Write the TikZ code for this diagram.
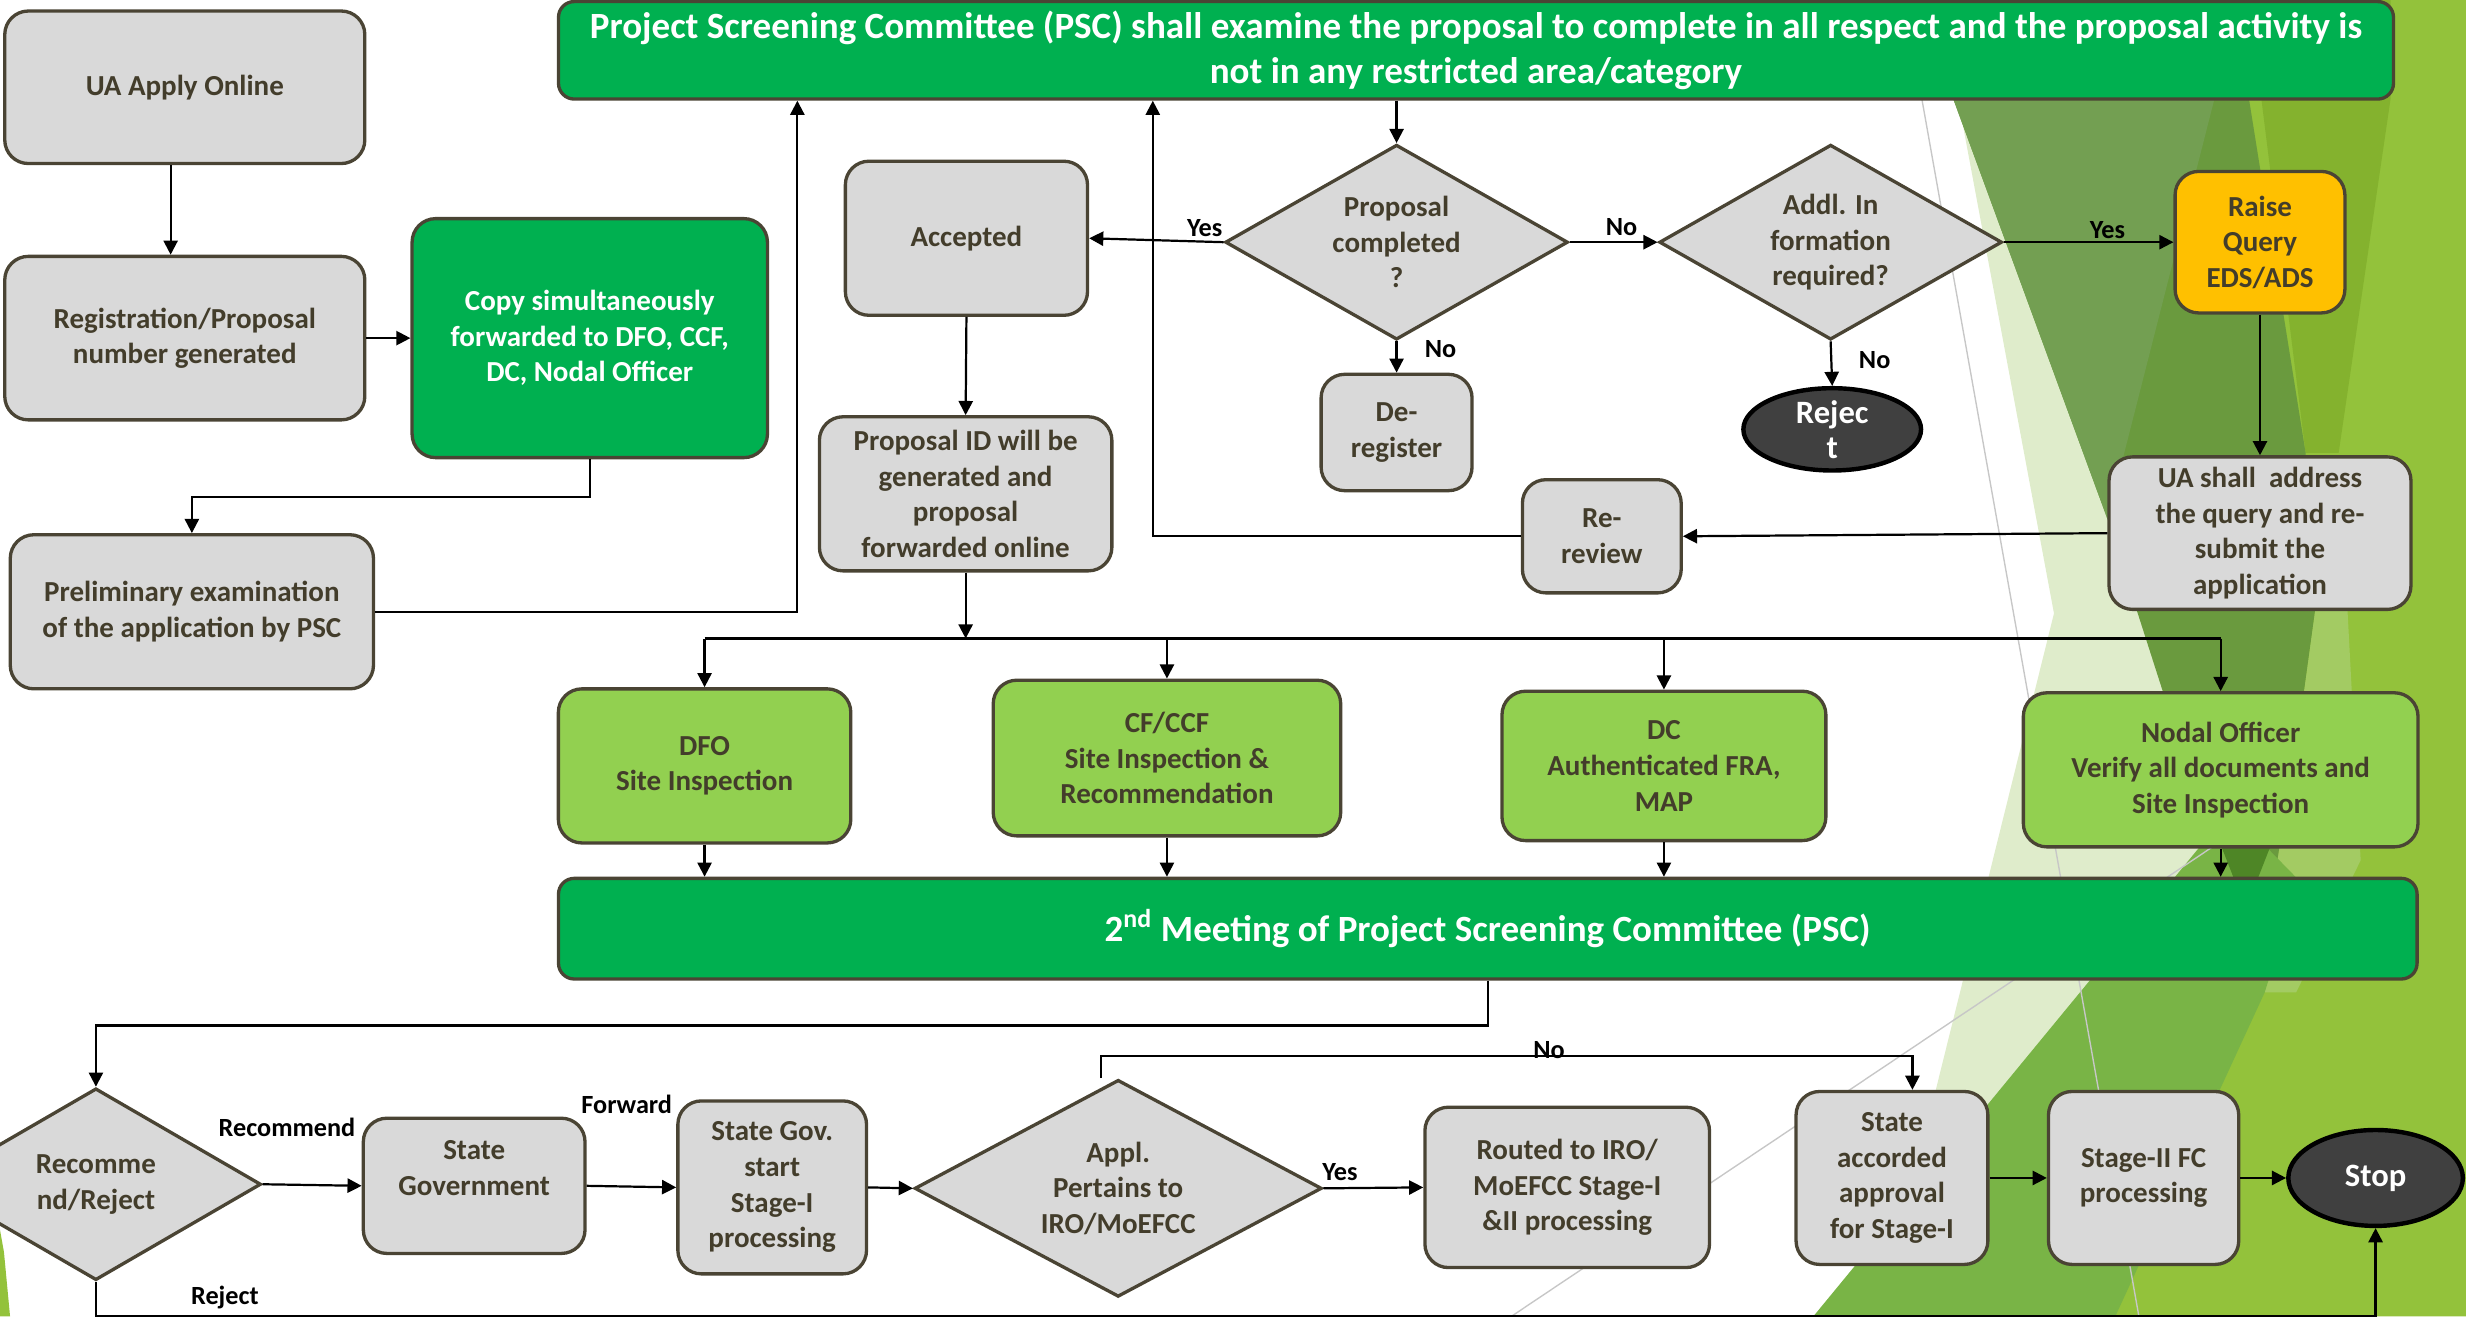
\documentclass[tikz,border=0pt]{standalone}
\usepackage{fontspec}
\setmainfont{Carlito}
\usetikzlibrary{shapes.geometric,arrows.meta}

\definecolor{boxgray}{HTML}{D9D9D9}
\definecolor{boxline}{HTML}{4A4434}
\definecolor{boxtext}{HTML}{433D2B}
\definecolor{pscgreen}{HTML}{00B050}
\definecolor{sitegreen}{HTML}{92D050}
\definecolor{querygold}{HTML}{FFC000}
\definecolor{endgray}{HTML}{404040}
\definecolor{bgbright}{HTML}{93C23B}
\definecolor{bgmedium}{HTML}{84B22E}
\definecolor{bglight}{HTML}{A3CB63}
\definecolor{bgpale}{HTML}{DFECCB}
\definecolor{bgdark}{HTML}{6A9A3E}
\definecolor{bgolive}{HTML}{739F52}
\definecolor{bgmid}{HTML}{79B446}
\definecolor{bgdeep}{HTML}{4E8626}

\begin{document}
\begin{tikzpicture}[x=0.02cm, y=-0.02cm,
    every node/.style={font=\bfseries},
    box/.style={draw=boxline, line width=1.2pt, rounded corners=0.3cm, fill=boxgray, text=boxtext,
        align=center, inner sep=1pt, font=\fontsize{10.5}{12.9}\selectfont\bfseries},
    sitebox/.style={box, fill=sitegreen},
    querybox/.style={box, fill=querygold},
    copybox/.style={box, fill=pscgreen, text=white},
    pscbar/.style={box, fill=pscgreen, text=white, rounded corners=0.2cm,
        font=\fontsize{13.4}{16}\selectfont\bfseries},
    decision/.style={diamond, draw=boxline, line width=1.2pt, fill=boxgray, text=boxtext,
        align=center, inner sep=1pt, aspect=1.75, font=\fontsize{10.5}{12.9}\selectfont\bfseries},
    terminal/.style={ellipse, draw=black, line width=1.6pt, fill=endgray, text=white,
        align=center, inner sep=0pt, font=\fontsize{11.8}{12.7}\selectfont\bfseries},
    lbl/.style={text=black, inner sep=1pt, font=\fontsize{9.5}{11}\selectfont\bfseries},
    arr/.style={-{Triangle[length=0.18cm,width=0.18cm]}, line width=0.8pt, black},
    link/.style={line width=0.8pt, black},
    bgline/.style={draw=black!22, line width=0.5pt}]

            \useasboundingbox (0,0) rectangle (1568,837);

            \fill[bgbright] (1400,0) -- (1568,0) -- (1568,837) -- (1300,837) -- (1400,600) -- cycle;
            \fill[bgbright] (0,782) -- (2.5,796) -- (6.4,837) -- (0,837) -- cycle;
            \fill[bgmedium] (1430,0) -- (1520,0) -- (1520,63) -- (1487,288) -- (1466,288) -- cycle;
            \fill[bglight] (1470,330) -- (1488,300) -- (1501,547) -- (1460,631) -- (1440,631) -- (1448,547) -- (1465,439) -- (1472,388) -- cycle;
            \fill[bgpale] (1245,63) -- (1306,390) -- (1213,765) -- (1415,520) -- (1340,330) -- cycle;
            \fill[bgdark] (1242,63) -- (1430,63) -- (1466,288) -- (1472,388) -- (1465,439) -- (1448,547) -- (1427,575) -- (1405,547) -- (1375,439) -- (1340,330) -- cycle;
            \fill[bgolive] (1242,63) -- (1408,63) -- (1340,330) -- cycle;
            \fill[bgmid] (1418,515) -- (1462,560) -- (1440,631) -- (1345,837) -- (1153,837) -- cycle;
            \fill[bgdeep] (1410,532) -- (1446,532) -- (1428,578) -- cycle;
            \draw[bgline] (1222,63) -- (1360,837);
            \draw[bgline] (961,837) -- (1415,533);

            \node[box, minimum width=4.58cm, minimum height=1.94cm] (ua) at (117.5,55.5) {UA Apply Online};
            \node[box, minimum width=4.58cm, minimum height=2.08cm] (reg) at (117.5,215) {Registration/Proposal\\number generated};
            \node[copybox, minimum width=4.52cm, minimum height=3.04cm] (copy) at (375,215) {Copy simultaneously\\forwarded to DFO, CCF,\\DC, Nodal Officer};
            \node[box, minimum width=4.62cm, minimum height=1.96cm] (prelim) at (122,389) {Preliminary examination\\of the application by PSC};
            \node[pscbar, minimum width=23.34cm, minimum height=1.24cm] (psc) at (938.5,32) {Project Screening Committee (PSC) shall examine the proposal to complete in all respect and the proposal activity is\\not in any restricted area/category};
            \node[box, minimum width=3.08cm, minimum height=1.96cm] (acc) at (614.5,151.5) {Accepted};
            \node[decision, minimum width=4.36cm, minimum height=2.48cm] (pc) at (888,154) {Proposal\\completed\\?};
            \node[box, minimum width=1.92cm, minimum height=1.48cm] (dereg) at (888,275) {De-\\register};
            \node[decision, minimum width=4.36cm, minimum height=2.48cm] (addl) at (1164,154) {Addl. In\\formation\\required?};
            \node[terminal, minimum width=2.26cm, minimum height=1.04cm] (rej) at (1165,273) {Rejec\\t};
            \node[querybox, minimum width=2.16cm, minimum height=1.8cm] (raise) at (1437,154) {Raise\\Query\\EDS/ADS};
            \node[box, minimum width=3.84cm, minimum height=1.94cm] (uashall) at (1437,339) {UA shall~ address\\the query and re-\\submit the\\application};
            \node[box, minimum width=2.02cm, minimum height=1.44cm] (rerev) at (1018.5,341) {Re-\\review};
            \node[box, minimum width=3.72cm, minimum height=1.96cm] (propid) at (614,314) {Proposal ID will be\\generated and\\proposal\\forwarded online};
            \node[sitebox, minimum width=3.72cm, minimum height=1.96cm] (dfo) at (448,487) {DFO\\Site Inspection};
            \node[sitebox, minimum width=4.42cm, minimum height=1.98cm] (cf) at (742,482) {CF/CCF\\Site Inspection \&\\Recommendation};
            \node[sitebox, minimum width=4.12cm, minimum height=1.9cm] (dc) at (1058,487) {DC\\Authenticated FRA,\\MAP};
            \node[sitebox, minimum width=5.02cm, minimum height=1.96cm] (nodal) at (1412,489.5) {Nodal Officer\\Verify all documents and\\Site Inspection};
            \node[pscbar, minimum width=23.64cm, minimum height=1.28cm] (meet) at (946,590.5) {2\textsuperscript{nd} Meeting of Project Screening Committee (PSC)};
            \node[decision, minimum width=4.2cm, minimum height=2.44cm] (recrej) at (61,753) {Recomme\\nd/Reject};
            \node[box, minimum width=2.82cm, minimum height=1.72cm] (sgov) at (301.5,754) {State\\Government\\\mbox{}};
            \node[box, minimum width=2.4cm, minimum height=2.2cm] (sgstart) at (491,755) {State Gov.\\start\\Stage-I\\processing};
            \node[decision, minimum width=5.18cm, minimum height=2.76cm] (appl) at (711,755.6) {Appl.\\Pertains to\\IRO/MoEFCC};
            \node[box, minimum width=3.62cm, minimum height=2.04cm] (routed) at (996.5,755) {Routed to IRO/\\MoEFCC Stage-I\\\&II processing};
            \node[box, minimum width=2.44cm, minimum height=2.2cm] (saccord) at (1203,749) {State\\accorded\\approval\\for Stage-I};
            \node[box, minimum width=2.42cm, minimum height=2.2cm] (stage2) at (1363,749) {Stage-II FC\\processing};
            \node[terminal, minimum width=2.22cm, minimum height=1.22cm] (stop) at (1510.5,749) {Stop};

            \coordinate (bus) at (0,406);

            \draw[arr] ([xshift=-0.18cm]ua.south) -- ([xshift=-0.18cm]reg.north);
            \draw[arr] (reg.east) -- (copy.west);
            \draw[arr] (copy.south) -- ++(0,24) -| (prelim.north);
            \draw[arr] (prelim.east) -| (psc.south -| 507,0);
            \draw[arr] (psc.south -| pc.north) -- (pc.north);
            \draw[arr] (pc.west) -- (acc.east);
            \draw[arr] (pc.east) -- (addl.west);
            \draw[arr] (pc.south) -- (dereg.north);
            \draw[arr] (addl.east) -- (raise.west);
            \draw[arr] (addl.south) -- (rej.north);
            \draw[arr] (raise.south) -- (uashall.north);
            \draw[arr] (uashall.west) -- (rerev.east);
            \draw[arr] (rerev.west) -| (psc.south -| 733,0);
            \draw[arr] (acc.south) -- (propid.north);
            \draw[arr] (propid.south) -- (propid.south |- bus);
            \draw[link] (dfo.north |- bus) -- (nodal.north |- bus);
            \foreach \n in {dfo,cf,dc,nodal} {
                \draw[arr] (\n.north |- bus) -- (\n.north);
                \draw[arr] (\n.south) -- (\n.south |- meet.north);
            }
            \draw[arr] (meet.south) -- ++(0,28.5) -| (recrej.north);
            \draw[arr] (recrej.east) -- (sgov.west);
            \draw[arr] (sgov.east) -- (sgstart.west);
            \draw[arr] (sgstart.east) -- (appl.west);
            \draw[arr] (appl.east) -- (routed.west);
            \draw[arr] ([xshift=-0.22cm]appl.north) -- ++(0,-14) -| ([xshift=0.26cm]saccord.north);
            \draw[arr] (saccord.east) -- (stage2.west);
            \draw[arr] (stage2.east) -- (stop.west);
            \draw[arr] (recrej.south) -- ++(0,22) -| (stop.south);

            \node[lbl] (yes1) at (766,145) {Yes};
            \node[lbl] (no1) at (1031,144.5) {No};
            \node[lbl] (no2) at (916,222) {No};
            \node[lbl] (yes2) at (1340,146) {Yes};
            \node[lbl] (no3) at (1192,229) {No};
            \node[lbl] (recm) at (182.5,717) {Recommend};
            \node[lbl] (fwd) at (398.5,702) {Forward};
            \node[lbl] (yes3) at (852,745) {Yes};
            \node[lbl] (no4) at (985,667.5) {No};
            \node[lbl] (rjt) at (143,825) {Reject};
\end{tikzpicture}
\end{document}
